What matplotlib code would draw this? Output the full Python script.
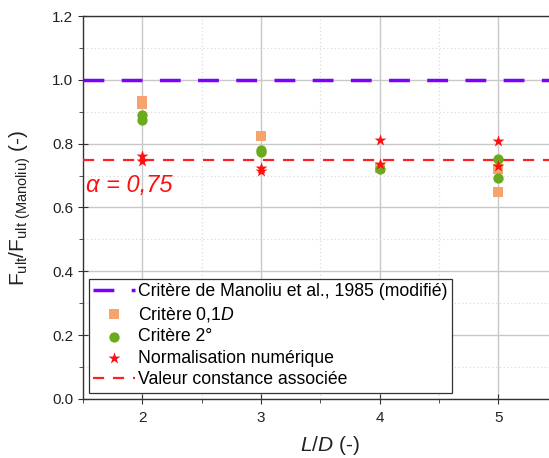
import matplotlib
matplotlib.use("Agg")
import matplotlib.pyplot as plt
from matplotlib.ticker import MultipleLocator

plt.rcParams['font.family'] = ['Liberation Sans', 'DejaVu Sans']
plt.rcParams['mathtext.fontset'] = 'custom'
plt.rcParams['mathtext.rm'] = 'Liberation Sans'
plt.rcParams['mathtext.it'] = 'Liberation Sans:italic'

# Data
sq_x = [2, 2, 3, 4, 5, 5]
sq_y = [0.933, 0.925, 0.825, 0.725, 0.72, 0.65]
ci_x = [2, 2, 3, 3, 4, 5, 5]
ci_y = [0.89, 0.875, 0.78, 0.775, 0.72, 0.752, 0.693]
st_x = [2, 2, 3, 3, 4, 4, 5, 5]
st_y = [0.76, 0.745, 0.723, 0.715, 0.81, 0.735, 0.808, 0.731]
manoliu = 1.0
alpha = 0.75
x_ticks = [2, 3, 4, 5]
y_ticks = [0.0, 0.2, 0.4, 0.6, 0.8, 1.0, 1.2]

fig = plt.figure(figsize=(5.49, 4.58), dpi=100)
ax = fig.add_axes([0.151, 0.129, 0.849, 0.836])

ax.set_xlim(1.5, 5.426)
ax.set_ylim(0.0, 1.2)
ax.xaxis.set_minor_locator(MultipleLocator(0.5))
ax.yaxis.set_minor_locator(MultipleLocator(0.1))
ax.set_xticks(x_ticks)
ax.set_yticks(y_ticks)
ax.set_yticklabels([f"{v:.1f}" for v in y_ticks])

ax.grid(True, which='major', color='#c8c8c8', lw=1.0, ls='-')
ax.grid(True, which='minor', color='#dddddd', lw=0.9, ls=(0, (1, 2)))
ax.set_axisbelow(True)

ax.axhline(manoliu, color='#7B00FF', lw=2.5, dashes=(6, 5),
           label='Critère de Manoliu et al., 1985 (modifié)', zorder=3)
ax.scatter(sq_x, sq_y, marker='s', s=45, color='#F4A46C', label='Critère 0,1$\\it{D}$', zorder=4, linewidths=0)
ax.scatter(ci_x, ci_y, marker='o', s=55, color='#6AAA1E', label='Critère 2°', zorder=5, linewidths=0)
ax.scatter(st_x, st_y, marker='*', s=80, color='#FF1010', label='Normalisation numérique', zorder=6, linewidths=0)
ax.axhline(alpha, color='#FF2020', lw=1.6, dashes=(5, 4),
           label='Valeur constance associée', zorder=3)

ax.text(1.53, 0.67, 'α = 0,75', color='#FF1010', fontsize=17, style='italic',
        va='center', ha='left')

for s in ['left', 'bottom', 'top']:
    ax.spines[s].set_color('#333333')
    ax.spines[s].set_linewidth(1.0)
ax.spines['right'].set_visible(False)
ax.tick_params(which='major', direction='inout', length=7, color='#333333', labelsize=11, labelcolor='#222222')
ax.tick_params(which='minor', direction='out', length=3, color='#333333')
ax.tick_params(axis='y', which='both', right=False)
ax.tick_params(axis='x', which='major', pad=5)

ax.set_xlabel('$\\it{L/D}$ (-)', fontsize=15, color='#222222')
ax.xaxis.set_label_coords((330 - 83) / 466, -0.092)
ax.set_ylabel('F$_{\\mathregular{ult}}$/F$_{\\mathregular{ult\\ (Manoliu)}}$ (-)', fontsize=15, color='#222222')
ax.yaxis.set_label_coords(-0.108, (399 - 208) / 383)

leg = ax.legend(loc='lower left', fontsize=12.7, frameon=True, fancybox=False,
                edgecolor='#333333', framealpha=1, borderaxespad=0.35,
                handlelength=2.35, handletextpad=0.2, labelspacing=0.26,
                borderpad=0.25, scatterpoints=1)
leg.get_frame().set_linewidth(0.9)

fig.savefig('out.png', dpi=100)
